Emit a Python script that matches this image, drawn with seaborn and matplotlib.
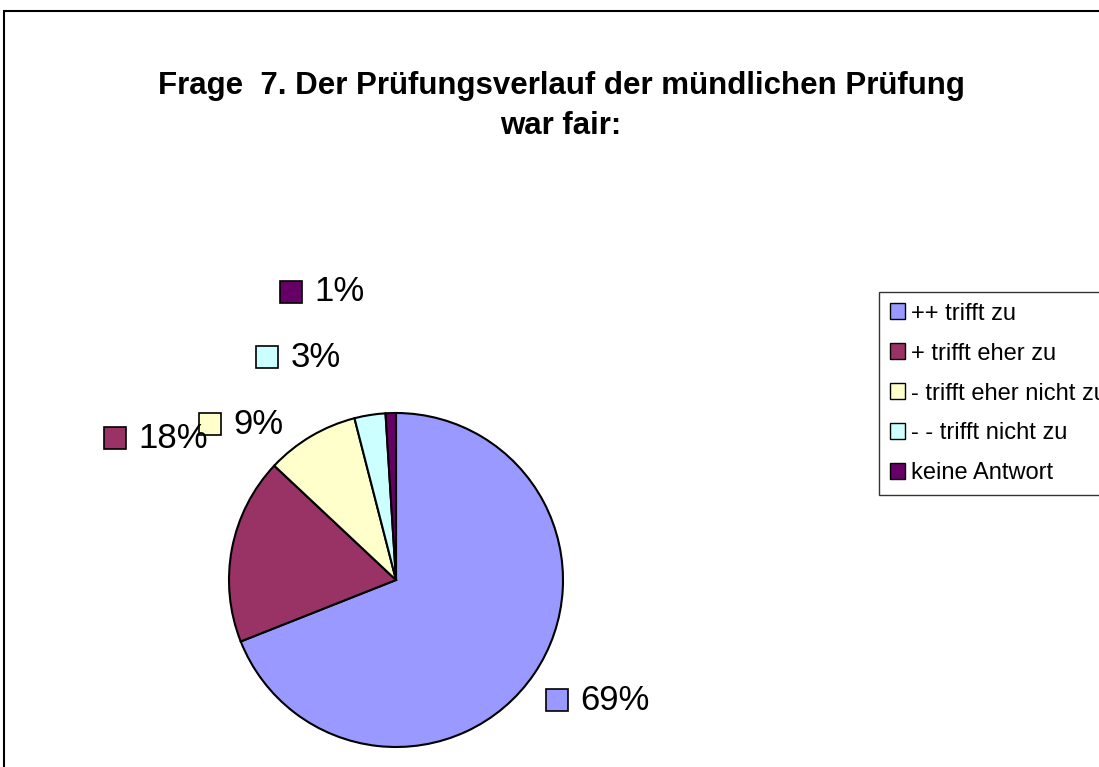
import numpy as np
import matplotlib
matplotlib.use("Agg")
import matplotlib.pyplot as plt
import matplotlib.patches as mpatches
import seaborn as sns

# data
categories = ["++ trifft zu", "+ trifft eher zu", "- trifft eher nicht zu",
              "- - trifft nicht zu", "keine Antwort"]
shares = [69, 18, 9, 3, 1]
slice_colors = ["#9999FF", "#993366", "#FFFFCC", "#CCFFFF", "#660066"]
pct_labels = ["69%", "18%", "9%", "3%", "1%"]

# where Excel put each data label (in pie-radius units, centre = 0,0)
label_pos = [(0.964, -0.719), (-1.683, 0.850), (-1.114, 0.934),
             (-0.772, 1.335), (-0.629, 1.725)]

sns.set_theme(style="white")
plt.rcParams['font.family'] = ['Liberation Sans', 'DejaVu Sans']
plt.rcParams['text.color'] = 'black'

W, H = 1099, 767
fig = plt.figure(figsize=(W / 100, H / 100), dpi=100)
fig.patch.set_facecolor("white")

# axes placed so that radius 1 == 167 px and centre sits at (396, 580)
r_px = 167
cx, cy = 396, 580
xlim = (-2.0, 2.0)
ylim = (-1.1, 2.0)
left = cx + xlim[0] * r_px
right = cx + xlim[1] * r_px
top = cy - ylim[1] * r_px
bottom = cy - ylim[0] * r_px
ax = fig.add_axes([left / W, 1 - bottom / H, (right - left) / W, (bottom - top) / H])

palette = sns.color_palette(slice_colors)
wedges, _ = ax.pie(shares, colors=palette, startangle=90, counterclock=False,
                   radius=1.0, wedgeprops=dict(edgecolor="black", linewidth=1.5))
ax.set_xlim(*xlim)
ax.set_ylim(*ylim)
ax.set_aspect("equal")
ax.axis("off")

# data labels: little colour square + percent text
for (x, y), txt, col in zip(label_pos, pct_labels, palette):
    ax.plot(x, y, marker="s", markersize=16, markerfacecolor=col,
            markeredgecolor="black", markeredgewidth=1.2, clip_on=False)
    ax.text(x + 0.14, y, txt, ha="left", va="center", fontsize=25, color="black")

# title
fig.text(561 / W, 1 - 106 / H, "Frage  7. Der Prüfungsverlauf der mündlichen Prüfung\nwar fair:",
         ha="center", va="center", fontsize=22.5, fontweight="bold",
         linespacing=1.45, color="black")

# legend (last entry runs past the right edge, as in the original)
handles = [mpatches.Patch(facecolor=c, edgecolor="black", linewidth=1.0) for c in palette]
leg = fig.legend(handles, categories, loc="upper left",
                 bbox_to_anchor=(879 / W, 1 - 292 / H), fontsize=17,
                 frameon=True, fancybox=False, edgecolor="black",
                 handlelength=0.65, handleheight=0.65, handletextpad=0.25,
                 labelspacing=0.76, borderpad=0.45, borderaxespad=0)
leg.get_frame().set_linewidth(1.0)
for t in leg.get_texts():
    t.set_color("black")

# chart-area border (only left and top edges show in the crop)
border = mpatches.Rectangle((4 / W, -0.2), 1.2, 1.2 - 11 / H,
                            transform=fig.transFigure, facecolor="none",
                            edgecolor="black", linewidth=1.5, clip_on=False)
fig.patches.append(border)

fig.savefig("out.png", dpi=100)
